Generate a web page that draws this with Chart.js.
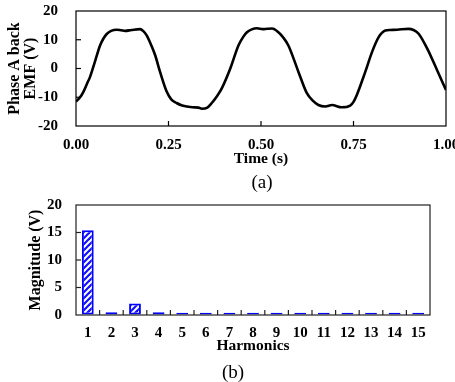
<!DOCTYPE html>
<html><head><meta charset="utf-8">
<script src="https://cdn.jsdelivr.net/npm/chart.js@4"></script>
<style>
html,body{margin:0;padding:0;background:#fff;width:455px;height:382px;overflow:hidden;}
#wrap{position:relative;width:455px;height:382px;}
canvas{position:absolute;left:0;}
#c1{top:0;} #c2{top:190px;}
.cap{position:absolute;font-family:"Liberation Serif",serif;font-size:19px;line-height:20px;transform:translateX(-50%);color:#000;white-space:nowrap;}
</style></head>
<body><div id="wrap">
<canvas id="c1" width="455" height="190"></canvas>
<canvas id="c2" width="455" height="192"></canvas>
<div class="cap" style="left:262px;top:172px">(a)</div>
<div class="cap" style="left:233px;top:362px">(b)</div>
</div>
<script>
// ---- data (a): phase A back EMF ----
const timeS = [0, 0.010, 0.020, 0.030, 0.038, 0.051, 0.065, 0.075, 0.083, 0.095, 0.110, 0.122, 0.133, 0.150, 0.173, 0.182, 0.191, 0.203, 0.214, 0.227, 0.245, 0.258, 0.272, 0.285, 0.299, 0.315, 0.331, 0.340, 0.355, 0.367, 0.380, 0.394, 0.417, 0.439, 0.452, 0.462, 0.475, 0.489, 0.505, 0.516, 0.530, 0.547, 0.560, 0.574, 0.601, 0.624, 0.640, 0.655, 0.674, 0.692, 0.718, 0.741, 0.750, 0.759, 0.782, 0.800, 0.818, 0.836, 0.850, 0.868, 0.899, 0.912, 0.926, 0.949, 0.976, 1.0];
const emfV = [-11.5, -10.2, -8.1, -5.2, -2.9, 2.3, 8.0, 10.6, 12.0, 13.1, 13.5, 13.3, 13.1, 13.4, 13.7, 13.0, 11.5, 8.2, 4.6, -1.1, -8.0, -10.8, -12.0, -12.8, -13.2, -13.5, -13.6, -14.0, -13.6, -12.0, -9.8, -6.9, 0, 8.0, 11.0, 12.6, 13.6, 14.0, 13.7, 13.8, 13.9, 12.6, 10.8, 8.0, -1.1, -8.6, -11.2, -12.7, -13.2, -12.7, -13.5, -12.9, -11.6, -9.2, -1.1, 5.7, 10.9, 13.2, 13.4, 13.5, 13.8, 13.4, 12.1, 7.0, -0.6, -7.5];
// ---- data (b): harmonics ----
const harmonicLabels = ['1','2','3','4','5','6','7','8','9','10','11','12','13','14','15'];
const magnitudeV = [15.4, 0.5, 2.1, 0.5, 0.4, 0.4, 0.4, 0.4, 0.4, 0.4, 0.4, 0.4, 0.4, 0.4, 0.4];

const FONT = '"Liberation Serif", "Times New Roman", serif';
const tickFont = {family: FONT, size: 15, weight: 'bold'};
const titleFont = {family: FONT, size: 15.5, weight: 'bold', lineHeight: 1.1};
const yTitleFontA = {family: FONT, size: 16, weight: 'bold', lineHeight: 1.0};
const yTitleFontB = {family: FONT, size: 16, weight: 'bold', lineHeight: 1.1};

const boxTicks = {
  id: 'boxTicks',
  afterDatasetsDraw(chart, args, opts) {
    const {ctx, chartArea: a} = chart;
    ctx.save();
    ctx.strokeStyle = opts.color || '#000';
    ctx.lineWidth = 1.2;
    ctx.strokeRect(a.left, a.top, a.right - a.left, a.bottom - a.top);
    const L = opts.len || 5;
    const line = (x1, y1, x2, y2) => { ctx.beginPath(); ctx.moveTo(x1, y1); ctx.lineTo(x2, y2); ctx.stroke(); };
    const ys = chart.scales.y;
    ys.ticks.forEach(t => {
      const p = ys.getPixelForValue(t.value);
      if (p > a.top + 1 && p < a.bottom - 1) line(a.left, p, a.left + L, p);
    });
    const xs = chart.scales.x;
    if (xs.type === 'category') {
      for (let i = 0; i < xs.ticks.length - 1; i++) {
        const p = (xs.getPixelForTick(i) + xs.getPixelForTick(i + 1)) / 2;
        line(p, a.bottom, p, a.bottom - L);
      }
    } else {
      xs.ticks.forEach(t => {
        const p = xs.getPixelForValue(t.value);
        if (p > a.left + 1 && p < a.right - 1) line(p, a.bottom, p, a.bottom - L);
      });
    }
    ctx.restore();
  }
};

function fixX(h) { return s => { s.height = h; s.paddingLeft = 0; s.paddingRight = 0; }; }
function fixY(w) { return s => { s.width = w; s.paddingTop = 0; s.paddingBottom = 0; }; }

// chart (a)
new Chart(document.getElementById('c1'), {
  type: 'line',
  data: {
    datasets: [{
      data: timeS.map((t, i) => ({x: t, y: emfV[i]})),
      borderColor: '#000', borderWidth: 2.6, pointRadius: 0,
      cubicInterpolationMode: 'monotone', fill: false
    }]
  },
  options: {
    responsive: false, animation: false, devicePixelRatio: 1,
    layout: {padding: {left: 0, right: 9, top: 11, bottom: 0}},
    plugins: {legend: {display: false}, tooltip: {enabled: false}, boxTicks: {color: '#000', len: 5}},
    scales: {
      x: {
        type: 'linear', min: 0, max: 1,
        ticks: {stepSize: 0.25, font: tickFont, color: '#000', padding: 10, maxRotation: 0,
          callback: v => Number(v).toFixed(2)},
        grid: {display: true, drawOnChartArea: false, drawTicks: false},
        border: {display: false},
        title: {display: true, text: 'Time (s)', font: titleFont, color: '#000', padding: {top: 0, bottom: 22}},
        afterFit: fixX(64)
      },
      y: {
        min: -20, max: 20,
        ticks: {stepSize: 10, font: tickFont, color: '#000', padding: 18},
        grid: {display: true, drawOnChartArea: false, drawTicks: false},
        border: {display: false},
        title: {display: true, text: ['Phase A back', 'EMF (V)'], font: yTitleFontA, color: '#000', padding: {top: 7, bottom: 0}},
        afterFit: fixY(76)
      }
    }
  },
  plugins: [boxTicks]
});

// hatch pattern
function hatch() {
  const c = document.createElement('canvas');
  c.width = 6; c.height = 6;
  const g = c.getContext('2d');
  g.fillStyle = '#fff'; g.fillRect(0, 0, 6, 6);
  g.strokeStyle = '#1010ff'; g.lineWidth = 2.2;
  [[-3, 3, 3, -3], [0, 6, 6, 0], [3, 9, 9, 3]].forEach(([a, b, c2, d]) => {
    g.beginPath(); g.moveTo(a, b); g.lineTo(c2, d); g.stroke();
  });
  return g.createPattern(c, 'repeat');
}

// chart (b)
new Chart(document.getElementById('c2'), {
  type: 'bar',
  data: {
    labels: harmonicLabels,
    datasets: [{
      data: magnitudeV,
      backgroundColor: hatch(), borderColor: '#0000ff', borderWidth: 2, borderSkipped: false,
      barPercentage: 0.5, categoryPercentage: 1.0
    }]
  },
  options: {
    responsive: false, animation: false, devicePixelRatio: 1,
    layout: {padding: {left: 0, right: 25, top: 15, bottom: 0}},
    plugins: {legend: {display: false}, tooltip: {enabled: false}, boxTicks: {color: '#222', len: 5}},
    scales: {
      x: {
        ticks: {font: tickFont, color: '#000', padding: 9, maxRotation: 0, autoSkip: false},
        grid: {display: true, drawOnChartArea: false, drawTicks: false},
        border: {display: false},
        title: {display: true, text: 'Harmonics', font: titleFont, color: '#000', padding: {top: 0, bottom: 27}},
        afterFit: fixX(67)
      },
      y: {
        min: 0, max: 20,
        ticks: {stepSize: 5, font: tickFont, color: '#000', padding: 14},
        grid: {display: true, drawOnChartArea: false, drawTicks: false},
        border: {display: false},
        title: {display: true, text: 'Magnitude (V)', font: yTitleFontB, color: '#000', padding: {top: 27, bottom: 0}},
        afterFit: fixY(76)
      }
    }
  },
  plugins: [boxTicks]
});
</script>
</body></html>
